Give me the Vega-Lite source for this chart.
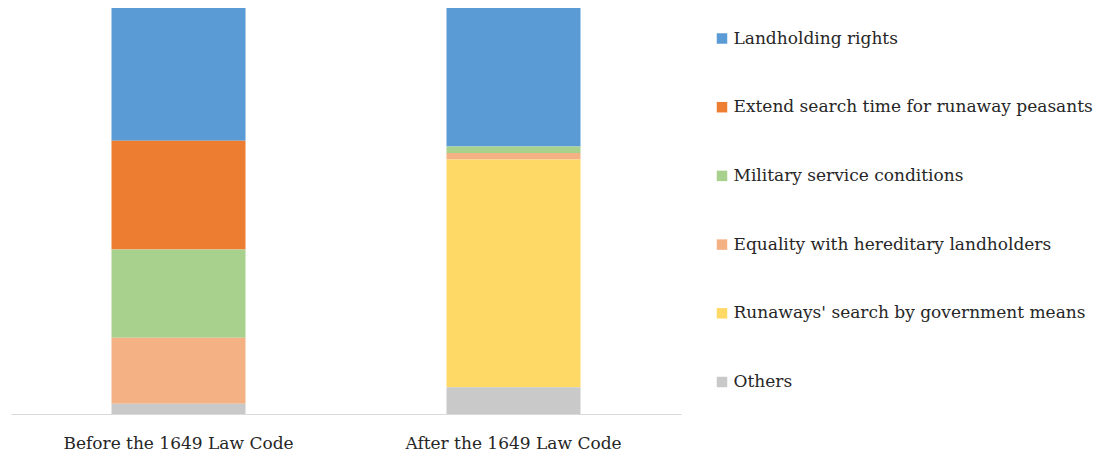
{
  "$schema": "https://vega.github.io/schema/vega-lite/v6.json",
  "width": 670,
  "height": 406,
  "padding": {"left": 11, "top": 8, "right": 0, "bottom": 0},
  "autosize": {"type": "pad"},
  "background": "white",
  "config": {
    "view": {"stroke": null},
    "font": "DejaVu Serif"
  },
  "data": {
    "values": [
      {"period": "Before the 1649 Law Code", "issue": "Landholding rights", "share": 32.7, "rank": 6},
      {"period": "Before the 1649 Law Code", "issue": "Extend search time for runaway peasants", "share": 26.8, "rank": 5},
      {"period": "Before the 1649 Law Code", "issue": "Military service conditions", "share": 21.7, "rank": 4},
      {"period": "Before the 1649 Law Code", "issue": "Equality with hereditary landholders", "share": 16.3, "rank": 3},
      {"period": "Before the 1649 Law Code", "issue": "Runaways' search by government means", "share": 0, "rank": 2},
      {"period": "Before the 1649 Law Code", "issue": "Others", "share": 2.5, "rank": 1},
      {"period": "After the 1649 Law Code", "issue": "Landholding rights", "share": 34.1, "rank": 6},
      {"period": "After the 1649 Law Code", "issue": "Extend search time for runaway peasants", "share": 0, "rank": 5},
      {"period": "After the 1649 Law Code", "issue": "Military service conditions", "share": 1.6, "rank": 4},
      {"period": "After the 1649 Law Code", "issue": "Equality with hereditary landholders", "share": 1.6, "rank": 3},
      {"period": "After the 1649 Law Code", "issue": "Runaways' search by government means", "share": 56.1, "rank": 2},
      {"period": "After the 1649 Law Code", "issue": "Others", "share": 6.6, "rank": 1}
    ]
  },
  "mark": {"type": "bar"},
  "encoding": {
    "x": {
      "field": "period",
      "type": "nominal",
      "sort": ["Before the 1649 Law Code", "After the 1649 Law Code"],
      "scale": {"paddingInner": 0.6, "paddingOuter": 0.3},
      "axis": {
        "title": null,
        "labelAngle": 0,
        "labelFontSize": 17,
        "labelColor": "#262626",
        "labelPadding": 21,
        "labelLimit": 400,
        "ticks": false,
        "domainColor": "#d9d9d9",
        "domainWidth": 1
      }
    },
    "y": {
      "field": "share",
      "type": "quantitative",
      "stack": "normalize",
      "axis": null
    },
    "order": {"field": "rank", "type": "quantitative", "sort": "ascending"},
    "color": {
      "field": "issue",
      "type": "nominal",
      "scale": {
        "domain": [
          "Landholding rights",
          "Extend search time for runaway peasants",
          "Military service conditions",
          "Equality with hereditary landholders",
          "Runaways' search by government means",
          "Others"
        ],
        "range": ["#5b9bd5", "#ed7d31", "#a9d18e", "#f4b183", "#ffd966", "#c9c9c9"]
      },
      "legend": {
        "title": null,
        "orient": "none",
        "legendX": 702.5,
        "legendY": 22,
        "symbolType": "square",
        "symbolSize": 110,
        "symbolStrokeWidth": 0,
        "labelFontSize": 17,
        "labelColor": "#262626",
        "labelOffset": 3,
        "labelLimit": 500,
        "rowPadding": 50.7
      }
    }
  }
}
